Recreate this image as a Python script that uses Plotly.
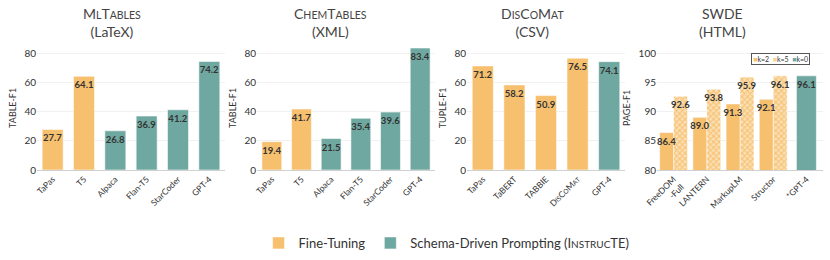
import plotly.graph_objects as go

# ---------------- data ----------------
ml_ft_cats = ["TaPas", "T5"]
ml_ft_vals = [27.7, 64.1]
ml_pr_cats = ["Alpaca", "Flan-T5", "StarCoder", "GPT-4"]
ml_pr_vals = [26.8, 36.9, 41.2, 74.2]

ch_ft_cats = ["TaPas", "T5"]
ch_ft_vals = [19.4, 41.7]
ch_pr_cats = ["Alpaca", "Flan-T5", "StarCoder", "GPT-4"]
ch_pr_vals = [21.5, 35.4, 39.6, 83.4]

dc_ft_cats = ["TaPas", "TaBERT", "TABBIE", "DisCoMat"]
dc_ft_vals = [71.2, 58.2, 50.9, 76.5]
dc_pr_cats = ["GPT-4"]
dc_pr_vals = [74.1]

sw_ft_cats = ["FreeDOM-Full", "LANTERN", "MarkupLM", "Structor"]
sw_k2_vals = [86.4, 89.0, 91.3, 92.1]
sw_k5_vals = [92.6, 93.8, 95.9, 96.1]
sw_pr_cats = ["*GPT-4"]
sw_k0_vals = [96.1]

titles = [("MlTables", "(LaTeX)"), ("ChemTables", "(XML)"),
          ("DisCoMat", "(CSV)"), ("SWDE", "(HTML)")]
ytitles = ["TABLE-F1", "TABLE-F1", "TUPLE-F1", "PAGE-F1"]

# ---------------- style ----------------
W, H = 830, 260
ORANGE = "#F6C06F"
ORANGE_LIGHT = "#FBE0B5"
TEAL = "#6FA8A0"
FONT = "Lato"
TXT = "#333333"


def sc(s, small):
    """Small caps: upper-case letters stay big, lower-case become small capitals."""
    out = ""
    i = 0
    while i < len(s):
        ch = s[i]
        if ch.islower():
            j = i
            while j < len(s) and s[j].islower():
                j += 1
            out += "<span style='font-size:%spx'>%s</span>" % (small, s[i:j].upper())
            i = j
        else:
            out += ch
            i += 1
    return out


def px_x(p):
    return p / W


def px_y(p):
    return 1 - p / H


legend_names = ["Fine-Tuning",
                "Schema-Driven Prompting (" + sc("Instruc", 10) + "TE)"]

domains = [(37, 225), (257, 435), (467, 625), (657, 823)]
ybottom, ytop = 170, 45.7

fig = go.Figure()

bar_text = dict(texttemplate="%{y:.1f}", textposition="inside", insidetextanchor="end",
                constraintext="none", textangle=0,
                insidetextfont=dict(family=FONT, size=9.5, color=TXT, weight="bold"))
line = dict(color="rgba(255,255,255,0.55)", width=1)

# panel 1
fig.add_trace(go.Bar(x=ml_ft_cats, y=ml_ft_vals, marker=dict(color=ORANGE, line=line),
                     name=legend_names[0], showlegend=True,
                     xaxis="x", yaxis="y", **bar_text))
fig.add_trace(go.Bar(x=ml_pr_cats, y=ml_pr_vals, marker=dict(color=TEAL, line=line),
                     name=legend_names[1], showlegend=True,
                     xaxis="x", yaxis="y", **bar_text))
# panel 2
fig.add_trace(go.Bar(x=ch_ft_cats, y=ch_ft_vals, marker=dict(color=ORANGE, line=line),
                     showlegend=False, xaxis="x2", yaxis="y2", **bar_text))
fig.add_trace(go.Bar(x=ch_pr_cats, y=ch_pr_vals, marker=dict(color=TEAL, line=line),
                     showlegend=False, xaxis="x2", yaxis="y2", **bar_text))
# panel 3
fig.add_trace(go.Bar(x=dc_ft_cats, y=dc_ft_vals, marker=dict(color=ORANGE, line=line),
                     showlegend=False, xaxis="x3", yaxis="y3", **bar_text))
fig.add_trace(go.Bar(x=dc_pr_cats, y=dc_pr_vals, marker=dict(color=TEAL, line=line),
                     showlegend=False, xaxis="x3", yaxis="y3", **bar_text))
# panel 4 (k=5 first so that k=2 labels are drawn above the hatched bars)
fig.add_trace(go.Bar(x=sw_ft_cats, y=sw_k5_vals,
                     marker=dict(color=ORANGE_LIGHT, line=line,
                                 pattern=dict(shape="x", fgcolor=ORANGE, bgcolor=ORANGE_LIGHT,
                                              size=4, solidity=0.45)),
                     offset=0, width=0.42,
                     showlegend=False, xaxis="x4", yaxis="y4", **bar_text))
fig.add_trace(go.Bar(x=sw_ft_cats, y=sw_k2_vals, marker=dict(color=ORANGE, line=line),
                     offset=-0.42, width=0.42,
                     showlegend=False, xaxis="x4", yaxis="y4", **bar_text))
fig.add_trace(go.Bar(x=sw_pr_cats, y=sw_k0_vals, marker=dict(color=TEAL, line=line),
                     width=0.6,
                     showlegend=False, xaxis="x4", yaxis="y4", **bar_text))

cat_orders = [ml_ft_cats + ml_pr_cats, ch_ft_cats + ch_pr_cats,
              dc_ft_cats + dc_pr_cats, sw_ft_cats + sw_pr_cats]
tick_texts = [cat_orders[0], cat_orders[1],
              dc_ft_cats[:3] + [sc("DisCoMat", 6.5)] + dc_pr_cats,
              ["FreeDOM<br>-Full"] + sw_ft_cats[1:] + sw_pr_cats]
yranges = [[0, 85], [0, 85], [0, 85], [80, 101.25]]
ytickvals = [[0, 20, 40, 60, 80]] * 3 + [[80, 85, 90, 95, 100]]

layout = dict(template="none", width=W, height=H, margin=dict(l=0, r=0, t=0, b=0),
              autosize=False, paper_bgcolor="white", plot_bgcolor="white",
              barmode="overlay", bargap=0.33,
              font=dict(family=FONT, color=TXT))

for i in range(4):
    s = "" if i == 0 else str(i + 1)
    d = domains[i]
    n = len(cat_orders[i])
    layout["xaxis" + s] = dict(domain=[px_x(d[0]), px_x(d[1])], anchor="y" + s,
                               type="category", categoryorder="array", categoryarray=cat_orders[i],
                               range=[-0.5, n - 0.5], automargin=False,
                               tickvals=cat_orders[i], ticktext=tick_texts[i],
                               tickangle=-45, tickfont=dict(size=8.5, color=TXT, family=FONT),
                               showline=True, linecolor="#D0D0D0", linewidth=1,
                               ticks="", showgrid=False, zeroline=False, fixedrange=True)
    layout["yaxis" + s] = dict(domain=[px_y(ybottom), px_y(ytop)], anchor="x" + s,
                               range=yranges[i], tickvals=ytickvals[i], automargin=False,
                               tickfont=dict(size=10, color=TXT, family=FONT),
                               showgrid=True, gridcolor="#F1F1F1", gridwidth=1,
                               zeroline=False, showline=False, ticks="",
                               title=dict(text=ytitles[i], font=dict(size=9, color=TXT, family=FONT),
                                          standoff=6))

layout["legend"] = dict(orientation="h", x=0.538, xanchor="center", y=px_y(243), yanchor="middle",
                        font=dict(size=13, color=TXT, family=FONT), itemwidth=30,
                        bgcolor="rgba(0,0,0,0)", traceorder="normal")

annotations = []
title_centers = [112, 330, 532, 722]
for i, (t1, t2) in enumerate(titles):
    annotations.append(dict(xref="paper", yref="paper", x=px_x(title_centers[i]), y=px_y(22.5),
                            xanchor="center", yanchor="middle", showarrow=False,
                            text=sc(t1, 10.5) + "<br>" + t2,
                            font=dict(size=14, color="#444444", family=FONT)))

k_legend = ("<span style='color:%s'>■</span>k=2  <span style='color:%s'>■</span>k=5  "
            "<span style='color:%s'>■</span>k=0") % (ORANGE, "#F8D29A", TEAL)
annotations.append(dict(xref="paper", yref="paper", x=px_x(780), y=px_y(59.5),
                        xanchor="center", yanchor="middle", showarrow=False,
                        text=k_legend, font=dict(size=7, color=TXT, family=FONT),
                        bordercolor="#555555", borderwidth=1, borderpad=1.2, bgcolor="white"))
layout["annotations"] = annotations

fig.update_layout(**layout)
fig.write_html("out.html", config={"displayModeBar": False},
               post_script="document.body.style.margin='0';document.body.style.overflow='hidden';")
